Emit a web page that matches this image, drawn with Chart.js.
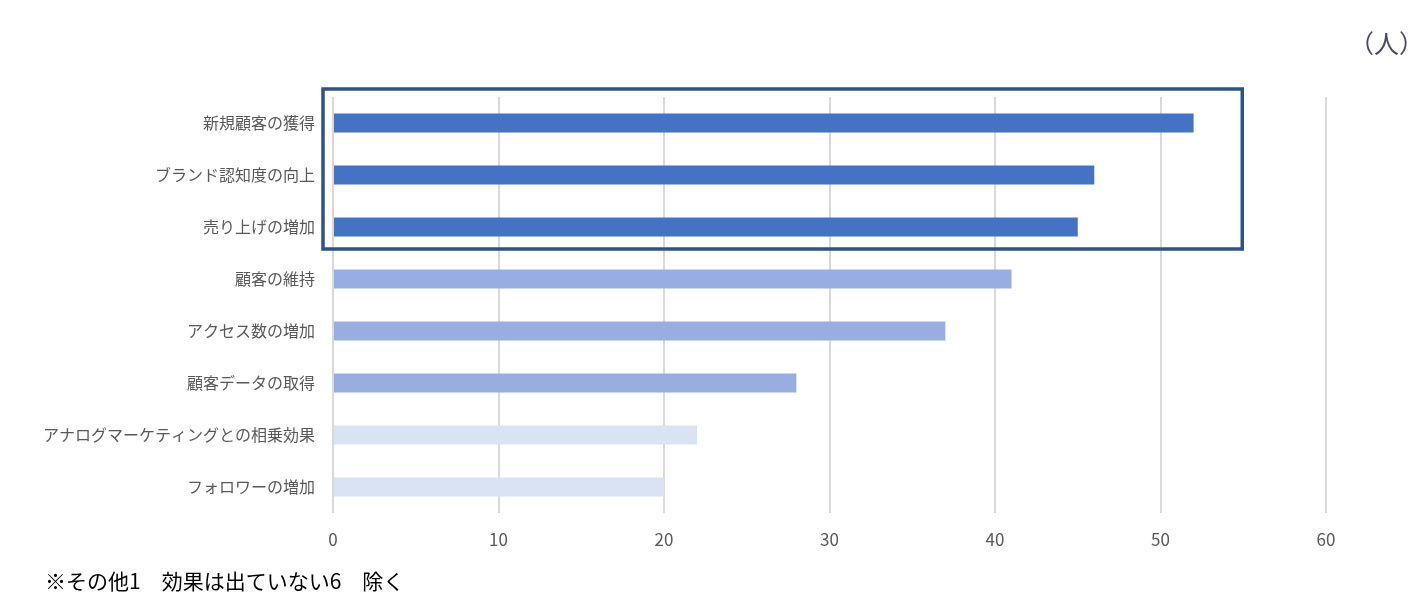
<!DOCTYPE html>
<html lang="ja">
<head>
<meta charset="utf-8">
<script src="https://cdn.jsdelivr.net/npm/chart.js@4/dist/chart.umd.min.js"></script>
<style>
  html, body { margin: 0; padding: 0; background: #fff; }
  #wrap { position: relative; width: 1414px; height: 609px; }
  #unit { position: absolute; left: 1349px; top: 24px; font: 25px "Noto Sans CJK JP", sans-serif; color: #4a4a68; }
  #note { position: absolute; left: 45px; top: 565px; font: 21px "Noto Sans CJK JP", sans-serif; color: #000; white-space: pre; }
</style>
</head>
<body>
<div id="wrap">
  <canvas id="myChart" width="1414" height="609"></canvas>
  <div id="unit">（人）</div>
  <div id="note">※その他1　効果は出ていない6　除く</div>
</div>
<script>
const categories = [
    '新規顧客の獲得',
    'ブランド認知度の向上',
    '売り上げの増加',
    '顧客の維持',
    'アクセス数の増加',
    '顧客データの取得',
    'アナログマーケティングとの相乗効果',
    'フォロワーの増加'
];

const values = [52, 46, 45, 41, 37, 28, 22, 20];

const xTicks = [0, 10, 20, 30, 40, 50, 60];

// 上位3つ / 中位3つ / 下位2つ
const barColors = [
    '#4472C4', '#4472C4', '#4472C4',
    '#98AEE3', '#98AEE3', '#98AEE3',
    '#DAE3F3', '#DAE3F3'
];

// 上位3項目を囲む枠
const highlightBox = {
    id: 'highlightBox',
    afterDraw(chart) {
        const x = chart.scales.x;
        const y = chart.scales.y;
        const ctx = chart.ctx;
        const left = x.getPixelForValue(0) - 10;
        const right = x.getPixelForValue(55) - 1;
        const top = y.getPixelForValue(0) - 34;
        const bottom = y.getPixelForValue(2) + 22;
        ctx.save();
        ctx.strokeStyle = '#2F528F';
        ctx.lineWidth = 3.5;
        ctx.strokeRect(left, top, right - left, bottom - top);
        ctx.restore();
    }
};

const data = {
    labels: categories,
    datasets: [{
        data: values,
        backgroundColor: barColors,
        barPercentage: 0.365,
        categoryPercentage: 1.0
    }]
};

const options = {
    indexAxis: 'y',
    responsive: false,
    animation: false,
    layout: { padding: { top: 97, right: 88, bottom: 0, left: 0 } },
    plugins: {
        legend: { display: false },
        tooltip: { enabled: false }
    },
    scales: {
        x: {
            min: 0,
            max: 60,
            afterBuildTicks(axis) {
                axis.ticks = xTicks.map(v => ({ value: v }));
            },
            afterFit(axis) { axis.height = 96; },
            grid: { color: '#D9D9D9', lineWidth: 2, drawTicks: false },
            border: { display: false },
            ticks: {
                padding: 16,
                color: '#595959',
                font: { family: '"Noto Sans CJK JP", sans-serif', size: 17 }
            }
        },
        y: {
            afterFit(axis) { axis.width = 333; },
            grid: { display: false },
            border: { display: false },
            ticks: {
                padding: 10,
                color: '#595959',
                font: { family: '"Noto Sans CJK JP", sans-serif', size: 16 }
            }
        }
    }
};

const config = {
    type: 'bar',
    data: data,
    options: options,
    plugins: [highlightBox]
};

new Chart(document.getElementById('myChart'), config);
</script>
</body>
</html>
